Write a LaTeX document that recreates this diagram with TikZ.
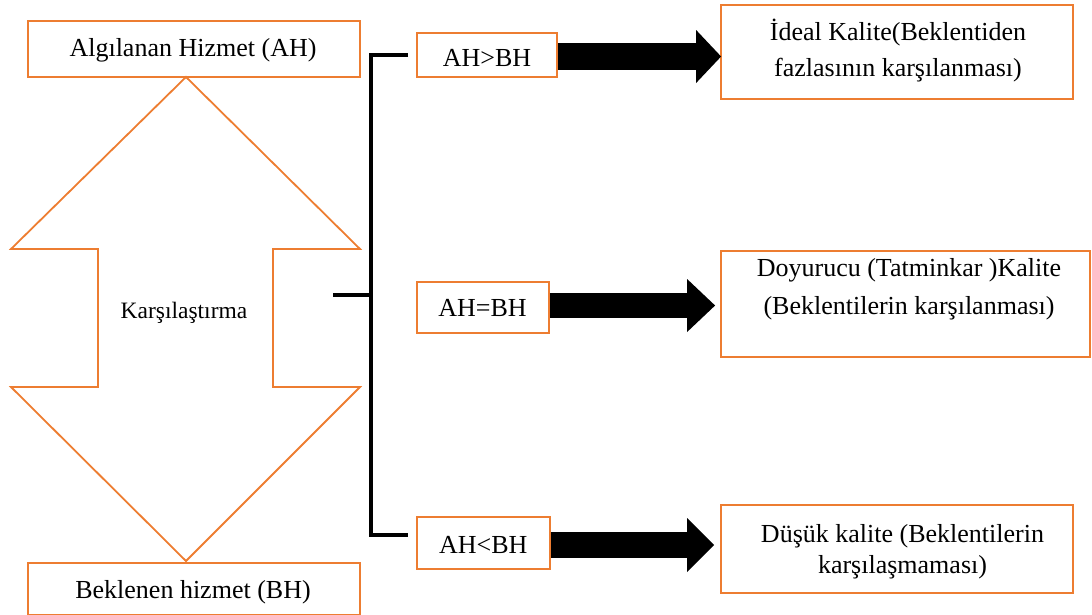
\documentclass[tikz,border=0pt]{standalone}
\usepackage{fontspec}
\setmainfont{Liberation Serif}
\usetikzlibrary{arrows.meta,calc}
\definecolor{boxorange}{HTML}{ED7D31}
\begin{document}
\begin{tikzpicture}[x=1pt,y=-1pt,
  box/.style={draw=boxorange,line width=1.8pt,inner sep=0pt},
  txt/.style={font=\fontsize{26}{37}\selectfont,inner sep=0pt,anchor=base},
  bracket/.style={line width=3.2pt,line cap=butt,line join=miter},
  outline/.style={draw=boxorange,line width=1.8pt,line join=miter}
]
\useasboundingbox (0,0) rectangle (1092,614);
\clip (0,0) rectangle (1092,614);

% two-headed comparison arrow
\draw[outline] (186,77) -- (360,249) -- (273,249) -- (273,387) -- (360,387)
  -- (186,561) -- (11,387) -- (98,387) -- (98,249) -- (11,249) -- cycle;
\node[inner sep=0pt,anchor=base,font=\fontsize{23.5}{28}\selectfont] (cmptext) at (184,318.3) {Karşılaştırma};

% left boxes
\node[box,minimum width=332pt,minimum height=56pt] (ah) at (194,49) {};
\node[txt] (ahtext) at (193,56.7) {Algılanan Hizmet (AH)};
\node[box,minimum width=332pt,minimum height=52pt] (bh) at (194,589) {};
\node[txt] (bhtext) at (193,598.3) {Beklenen hizmet (BH)};

% condition boxes
\node[box,minimum width=140pt,minimum height=44pt] (gt) at (487,55) {};
\node[txt] (gttext) at (487,66.7) {AH>BH};
\node[box,minimum width=132pt,minimum height=51pt] (eq) at (483,307.5) {};
\node[txt] (eqtext) at (482.5,316) {AH=BH};
\node[box,minimum width=133pt,minimum height=52pt] (lt) at (483.5,543) {};
\node[txt] (lttext) at (483.3,553.3) {AH<BH};

% result boxes
\node[box,minimum width=352pt,minimum height=94pt] (r1) at (897,52) {};
\node[txt] (r1a) at (898,40) {İdeal Kalite(Beklentiden};
\node[txt] (r1b) at (898,76.5) {fazlasının karşılanması)};
\node[box,minimum width=369pt,minimum height=106pt] (r2) at (905.5,304) {};
\node[txt] (r2a) at (909,276.7) {Doyurucu (Tatminkar )Kalite};
\node[txt] (r2b) at (909,314) {(Beklentilerin karşılanması)};
\node[box,minimum width=352pt,minimum height=88pt] (r3) at (897,549) {};
\node[txt] (r3a) at (902.5,542) {Düşük kalite (Beklentilerin};
\node[txt] (r3b) at (902.5,573.5) {karşılaşmaması)};

% bracket joining the comparison to the three cases
\coordinate (cmp) at (333,295);
\coordinate (spine) at (371,295);
\coordinate (btop) at ($(gt.west)+(-8,0)$);
\coordinate (bbot) at ($(lt.west)+(-8,-8)$);
\draw[bracket] (btop) -- (btop -| spine) -- (bbot -| spine) -- (bbot);
\draw[bracket] (cmp) -- (spine);

% block arrows to the results
\draw[line width=27pt,-{Triangle[length=25pt,width=53pt,line width=0pt]}]
  ($(gt.east)+(0,1.5)$) -- ($(gt.east -| r1.west)+(1,1.5)$);
\draw[line width=25pt,-{Triangle[length=28pt,width=53pt,line width=0pt]}]
  ($(eq.east)+(0,-2)$) -- ($(eq.east -| r2.west)+(-5,-2)$);
\draw[line width=26pt,-{Triangle[length=27pt,width=54pt,line width=0pt]}]
  ($(lt.east)+(0,2)$) -- ($(lt.east -| r3.west)+(-6,2)$);
\end{tikzpicture}
\end{document}
